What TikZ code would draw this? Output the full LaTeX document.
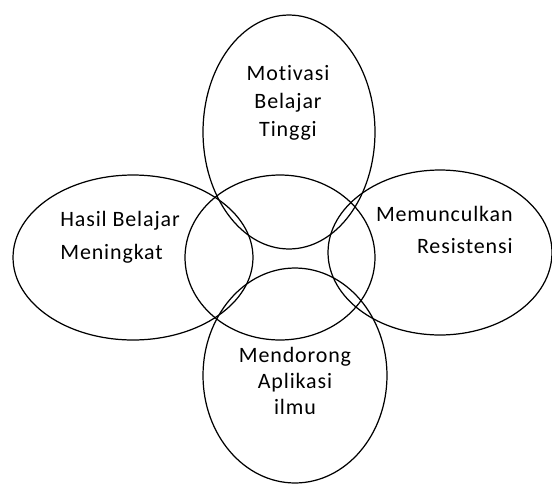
\documentclass[tikz,border=0pt]{standalone}
\usepackage{fontspec}
\setmainfont{Carlito}[Ligatures=NoCommon, LetterSpace=4]
\usetikzlibrary{shapes.geometric, positioning}

\begin{document}
\begin{tikzpicture}[x=0.02cm, y=-0.02cm,
    lingkaran/.style={ellipse, draw, line width=0.7pt, inner sep=0pt},
    teks/.style={inner sep=0pt, font=\fontsize{12.5}{#1}\selectfont}]
    \useasboundingbox (0,0) rectangle (552,484);

    % lingkaran
    \node[lingkaran, minimum width=3.8cm, minimum height=3.3cm] (tengah) at (280,257.5) {};
    \node[lingkaran, minimum width=3.44cm, minimum height=4.68cm] (atas) at (289,132) {};
    \node[lingkaran, minimum width=4.8cm, minimum height=3.3cm] (kiri) at (133,257.5) {};
    \node[lingkaran, minimum width=4.48cm, minimum height=3.3cm] (kanan) at (440,252.5) {};
    \node[lingkaran, minimum width=3.68cm, minimum height=4.3cm] (bawah) at (295,375.5) {};

    % teks
    \node[teks=15.9pt, align=center] (motivasi) at (288,103) {Motivasi\\Belajar\\Tinggi};
    \node[teks=18.8pt, align=left, anchor=west] (hasil) at (60,237) {Hasil Belajar\\Meningkat};
    \node[teks=18.2pt, align=right, anchor=east] (resistensi) at (513,230) {Memunculkan\\Resistensi};
    \node[teks=14.8pt, align=center] (aplikasi) at (295,381) {Mendorong\\Aplikasi\\ilmu};
\end{tikzpicture}
\end{document}
